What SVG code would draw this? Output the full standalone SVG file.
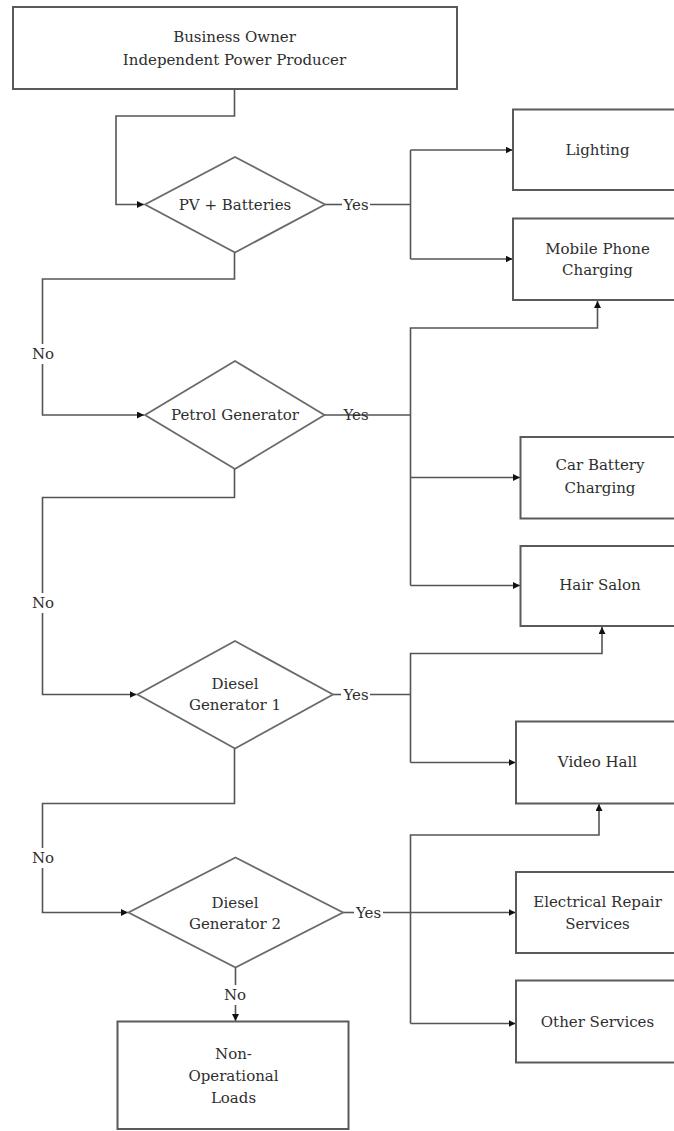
<svg xmlns="http://www.w3.org/2000/svg" width="674" height="1131" viewBox="0 0 674 1131">
  <style>
    .box { fill: #ffffff; stroke: #5a5a5a; stroke-width: 2; }
    .dia { fill: #ffffff; stroke: #6a6a6a; stroke-width: 1.8; }
    .lbl { font-family: "DejaVu Serif", "Liberation Serif", serif; font-size: 15px; fill: #2e2e2e; text-anchor: middle; }
    .wire { fill: none; stroke: #555555; stroke-width: 1.6; }
    .arr { marker-end: url(#head); }
  </style>
  <defs>
    <marker id="head" markerUnits="userSpaceOnUse" markerWidth="8" markerHeight="8" refX="7" refY="3.5" orient="auto">
      <path d="M0,0 L7,3.5 L0,7 z" fill="#111111"/>
    </marker>
  </defs>
  <rect width="674" height="1131" fill="#ffffff"/>

  <!-- connectors -->
  <g id="connectors">
    <!-- decision chain (No branches) -->
    <path class="wire arr" d="M234.5,89 V116 H116 V204.5 H144"/>
    <path class="wire" d="M234.5,252.5 V279 H42.5 V344"/>
    <path class="wire arr" d="M42.5,364 V415 H144"/>
    <path class="wire" d="M234.5,469 V497.5 H42.5 V593"/>
    <path class="wire arr" d="M42.5,613 V694.5 H136.5"/>
    <path class="wire" d="M234.5,748.5 V803.5 H42.5 V848"/>
    <path class="wire arr" d="M42.5,868 V912.5 H128"/>
    <path class="wire" d="M235.5,967.5 V985"/>
    <path class="wire arr" d="M235.5,1005 V1021"/>

    <!-- PV + Batteries: Yes -->
    <path class="wire" d="M325,204.5 H342"/>
    <path class="wire" d="M370,204.5 H410.5"/>
    <path class="wire" d="M410.5,150 V259"/>
    <path class="wire arr" d="M410.5,150 H512.5"/>
    <path class="wire arr" d="M410.5,259 H512.5"/>

    <!-- Petrol Generator: Yes -->
    <path class="wire" d="M324.5,415 H410.5"/>
    <path class="wire arr" d="M410.5,415 V328 H597.5 V301"/>
    <path class="wire" d="M410.5,415 V585.5"/>
    <path class="wire arr" d="M410.5,477.5 H520"/>
    <path class="wire arr" d="M410.5,585.5 H520"/>

    <!-- Diesel Generator 1: Yes -->
    <path class="wire" d="M333,694.5 H341"/>
    <path class="wire" d="M370,694.5 H410.5"/>
    <path class="wire arr" d="M410.5,762.5 V653.5 H602 V627"/>
    <path class="wire arr" d="M410.5,762.5 H515.5"/>

    <!-- Diesel Generator 2: Yes -->
    <path class="wire" d="M343,912.5 H354"/>
    <path class="wire arr" d="M383,912.5 H515.5"/>
    <path class="wire arr" d="M410.5,1023.5 V835 H599 V804"/>
    <path class="wire arr" d="M410.5,1023.5 H515.5"/>

    <!-- branch labels -->
    <text class="lbl" x="356" y="209.5">Yes</text>
    <text class="lbl" x="356" y="420">Yes</text>
    <text class="lbl" x="356" y="699.5">Yes</text>
    <text class="lbl" x="368.5" y="917.5">Yes</text>
    <text class="lbl" x="43" y="359">No</text>
    <text class="lbl" x="43" y="608">No</text>
    <text class="lbl" x="43" y="863">No</text>
    <text class="lbl" x="235" y="1000">No</text>
  </g>

  <!-- source -->
  <g id="owner">
    <rect class="box" x="13" y="7" width="444" height="82"/>
    <text class="lbl" x="234.5" y="42">Business Owner</text>
    <text class="lbl" x="234.5" y="64.5">Independent Power Producer</text>
  </g>

  <!-- decisions -->
  <g id="pv-batteries">
    <polygon class="dia" points="235,157 325,204.5 235,252.5 145,204.5"/>
    <text class="lbl" x="235" y="209.5">PV + Batteries</text>
  </g>
  <g id="petrol-generator">
    <polygon class="dia" points="235,361 324.5,415 235,469 145,415"/>
    <text class="lbl" x="235" y="420">Petrol Generator</text>
  </g>
  <g id="diesel-generator-1">
    <polygon class="dia" points="235,641 333,694.5 235,748.5 137.5,694.5"/>
    <text class="lbl" x="235" y="688.5">Diesel</text>
    <text class="lbl" x="235" y="710">Generator 1</text>
  </g>
  <g id="diesel-generator-2">
    <polygon class="dia" points="235.5,857.5 343,912.5 235.5,967.5 128.5,912.5"/>
    <text class="lbl" x="235" y="907.5">Diesel</text>
    <text class="lbl" x="235" y="928.5">Generator 2</text>
  </g>

  <!-- loads -->
  <g id="lighting">
    <rect class="box" x="513" y="109.5" width="170" height="80.5"/>
    <text class="lbl" x="597.5" y="155">Lighting</text>
  </g>
  <g id="mobile-phone-charging">
    <rect class="box" x="513" y="218.5" width="170" height="81.5"/>
    <text class="lbl" x="597.5" y="253.5">Mobile Phone</text>
    <text class="lbl" x="597.5" y="275">Charging</text>
  </g>
  <g id="car-battery-charging">
    <rect class="box" x="520.5" y="437" width="170" height="81.5"/>
    <text class="lbl" x="600" y="470">Car Battery</text>
    <text class="lbl" x="600" y="493">Charging</text>
  </g>
  <g id="hair-salon">
    <rect class="box" x="520.5" y="546" width="170" height="80"/>
    <text class="lbl" x="600" y="590">Hair Salon</text>
  </g>
  <g id="video-hall">
    <rect class="box" x="516" y="721.5" width="170" height="82"/>
    <text class="lbl" x="597.5" y="767">Video Hall</text>
  </g>
  <g id="electrical-repair-services">
    <rect class="box" x="516" y="872" width="170" height="81"/>
    <text class="lbl" x="597.5" y="907">Electrical Repair</text>
    <text class="lbl" x="597.5" y="928.5">Services</text>
  </g>
  <g id="other-services">
    <rect class="box" x="516" y="980.5" width="170" height="82"/>
    <text class="lbl" x="597.5" y="1027">Other Services</text>
  </g>
  <g id="non-operational-loads">
    <rect class="box" x="117.5" y="1021.5" width="231" height="107.5"/>
    <text class="lbl" x="233.5" y="1058.5">Non-</text>
    <text class="lbl" x="233.5" y="1081">Operational</text>
    <text class="lbl" x="233.5" y="1102.5">Loads</text>
  </g>
</svg>
